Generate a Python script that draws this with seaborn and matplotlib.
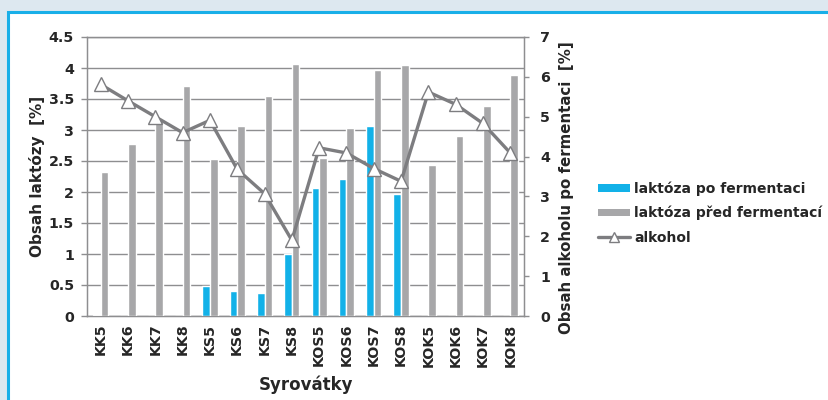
import numpy as np
import pandas as pd
import matplotlib
matplotlib.use("Agg")
import matplotlib.pyplot as plt
import seaborn as sns
from matplotlib.patches import Patch, Rectangle
from matplotlib.lines import Line2D

categories = ["KK5", "KK6", "KK7", "KK8", "KS5", "KS6", "KS7", "KS8",
              "KOS5", "KOS6", "KOS7", "KOS8", "KOK5", "KOK6", "KOK7", "KOK8"]
lakt_po = [0.01, 0, 0, 0, 0.48, 0.40, 0.37, 1.00,
           2.07, 2.21, 3.06, 1.96, 0, 0, 0, 0]
lakt_pred = [2.33, 2.78, 3.14, 3.71, 2.54, 3.06, 3.55, 4.07,
             2.55, 3.03, 3.96, 4.05, 2.43, 2.91, 3.39, 3.88]
alkohol = [5.81, 5.40, 5.00, 4.60, 4.91, 3.68, 3.07, 1.90,
           4.22, 4.09, 3.70, 3.38, 5.62, 5.31, 4.83, 4.09]
series_names = ["laktóza po fermentaci", "laktóza před fermentací"]
left_ticks = [0, 0.5, 1, 1.5, 2, 2.5, 3, 3.5, 4, 4.5]
right_ticks = [0, 1, 2, 3, 4, 5, 6, 7]

BLUE = "#12b1e8"
GRAY = "#a7a7a9"
LINE = "#7d7d80"
GRID = "#8e8e90"
TXT = "#262626"

sns.set_style("white")
plt.rcParams['font.family'] = ['DejaVu Sans']

df = pd.DataFrame({
    "cat": categories * 2,
    "val": lakt_po + lakt_pred,
    "series": [series_names[0]] * len(categories) + [series_names[1]] * len(categories),
})
df_alk = pd.DataFrame({"cat": categories, "alk": alkohol})

fig = plt.figure(figsize=(8.29, 4.0), dpi=100)
fig.patch.set_facecolor("#dde8f0")
fig.patches.append(Rectangle((8 / 829, -0.05), 1.0, 1 - 12 / 400 + 0.05,
                             transform=fig.transFigure, facecolor="white",
                             edgecolor="#19afe8", linewidth=2.2, zorder=-10))

ax = fig.add_axes([87 / 829, 1 - 316 / 400, (524 - 87) / 829, (316 - 37) / 400])
ax.set_facecolor("none")
sns.barplot(data=df, x="cat", y="val", hue="series", order=categories,
            hue_order=series_names, palette=[BLUE, GRAY], width=0.56,
            saturation=1, gap=0.0, ax=ax, legend=False, zorder=3)

TICKFONT = dict(fontsize=10.3, fontweight="bold", color=TXT)
ax.set_ylim(0, 4.5)
ax.set_xlim(-0.5, len(categories) - 0.5)
ax.set_yticks(left_ticks)
ax.set_yticklabels([("%g" % t) for t in left_ticks], **TICKFONT)
ax.yaxis.grid(True, color=GRID, linewidth=1.0, zorder=0)
ax.set_axisbelow(True)
ax.set_xticks(np.arange(len(categories)))
ax.set_xticklabels(categories, rotation=90, **TICKFONT)
ax.tick_params(axis="x", which="major", length=0, pad=5.5)
ax.set_xticks(np.arange(len(categories) + 1) - 0.5, minor=True)
ax.tick_params(axis="x", which="minor", length=4.3, color=GRID, direction="out", width=1)
ax.tick_params(axis="y", length=4.3, color=GRID, direction="out", width=1, pad=5)
for s in ["left", "bottom", "right", "top"]:
    ax.spines[s].set_color(GRID)
    ax.spines[s].set_linewidth(1.0)
ax.set_xlabel("Syrovátky", fontsize=12, fontweight="bold", color=TXT, labelpad=6)
ax.set_ylabel("Obsah laktózy  [%]", fontsize=11, fontweight="bold", color=TXT, labelpad=3)

ax2 = ax.twinx()
sns.pointplot(data=df_alk, x="cat", y="alk", order=categories, ax=ax2,
              color=LINE, markers="^", linestyles="-",
              markersize=10.5, markerfacecolor="white", markeredgecolor=LINE,
              markeredgewidth=1.0, linewidth=2.4, zorder=5)
ax2.set_xlim(-0.5, len(categories) - 0.5)
ax2.set_ylim(0, 7)
ax2.set_yticks(right_ticks)
ax2.set_yticklabels([str(t) for t in right_ticks], **TICKFONT)
ax2.tick_params(axis="y", length=3.5, color=GRID, direction="out", width=1, pad=8)
ax2.set_ylabel("Obsah alkoholu po fermentaci  [%]", fontsize=10.8, fontweight="bold",
               color=TXT)
ax2.yaxis.set_label_coords((559 - 87) / 437, (316 - 187.5) / 279)
ax2.set_xlabel("")
for s in ["left", "bottom", "right", "top"]:
    ax2.spines[s].set_color(GRID)
for ln in ax2.lines:
    ln.set_markerfacecolor("white")
    ln.set_markeredgecolor(LINE)
    ln.set_clip_on(False)

handles = [Patch(facecolor=BLUE, edgecolor="none"),
           Patch(facecolor=GRAY, edgecolor="none"),
           Line2D([0], [0], color=LINE, linewidth=2.4, marker="^",
                  markerfacecolor="white", markeredgecolor=LINE, markersize=7)]
labels = series_names + ["alkohol"]
leg = fig.legend(handles, labels, loc="center left",
                 bbox_to_anchor=(598 / 829, 1 - 213 / 400),
                 frameon=False, prop=dict(size=10, weight="bold"),
                 handlelength=2.3, handleheight=0.45, handletextpad=0.3,
                 labelspacing=0.72, borderaxespad=0, borderpad=0)
for t in leg.get_texts():
    t.set_color(TXT)

fig.savefig("out.png", dpi=100, facecolor=fig.get_facecolor())
